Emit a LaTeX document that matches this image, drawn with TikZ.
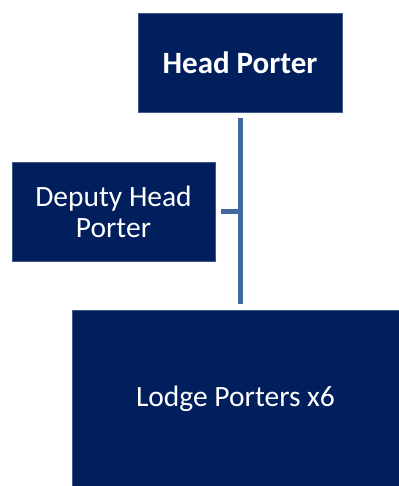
\documentclass[tikz,border=0pt]{standalone}
\usepackage{fontspec}
\setmainfont{Carlito}
\definecolor{navy}{HTML}{001F5C}
\definecolor{navyedge}{HTML}{3A5A8C}
\definecolor{linkblue}{HTML}{4169A0}
\tikzset{
  rolebox/.style={fill=navy, draw=navyedge, line width=0.6pt, text=white,
    align=center, inner sep=0pt, font=\fontsize{29.5}{31}\selectfont},
  link/.style={draw=linkblue, line width=5pt}
}
\begin{document}
\begin{tikzpicture}[x=1pt, y=-1pt]
  \useasboundingbox (0,0) rectangle (398,486);

  % Boxes
  \node[rolebox, minimum width=204pt, minimum height=99pt, font=\fontsize{31}{33}\selectfont\bfseries]
    (head) at (240,62.5) {Head Porter};
  \node[rolebox, minimum width=203pt, minimum height=99pt]
    (deputy) at (113.5,211.5) {Deputy Head\\Porter};
  \node[rolebox, minimum width=327pt, minimum height=176pt]
    (lodge) at (235.5,398.5) {Lodge Porters x6};

  % Connectors
  \coordinate (trunk) at ([yshift=6pt]head.south |- lodge.north);
  \draw[link] ([yshift=-6pt]head.south) -- (trunk);
  \draw[link] ([xshift=6pt]deputy.east) -- (head.south |- deputy.east);
\end{tikzpicture}
\end{document}
